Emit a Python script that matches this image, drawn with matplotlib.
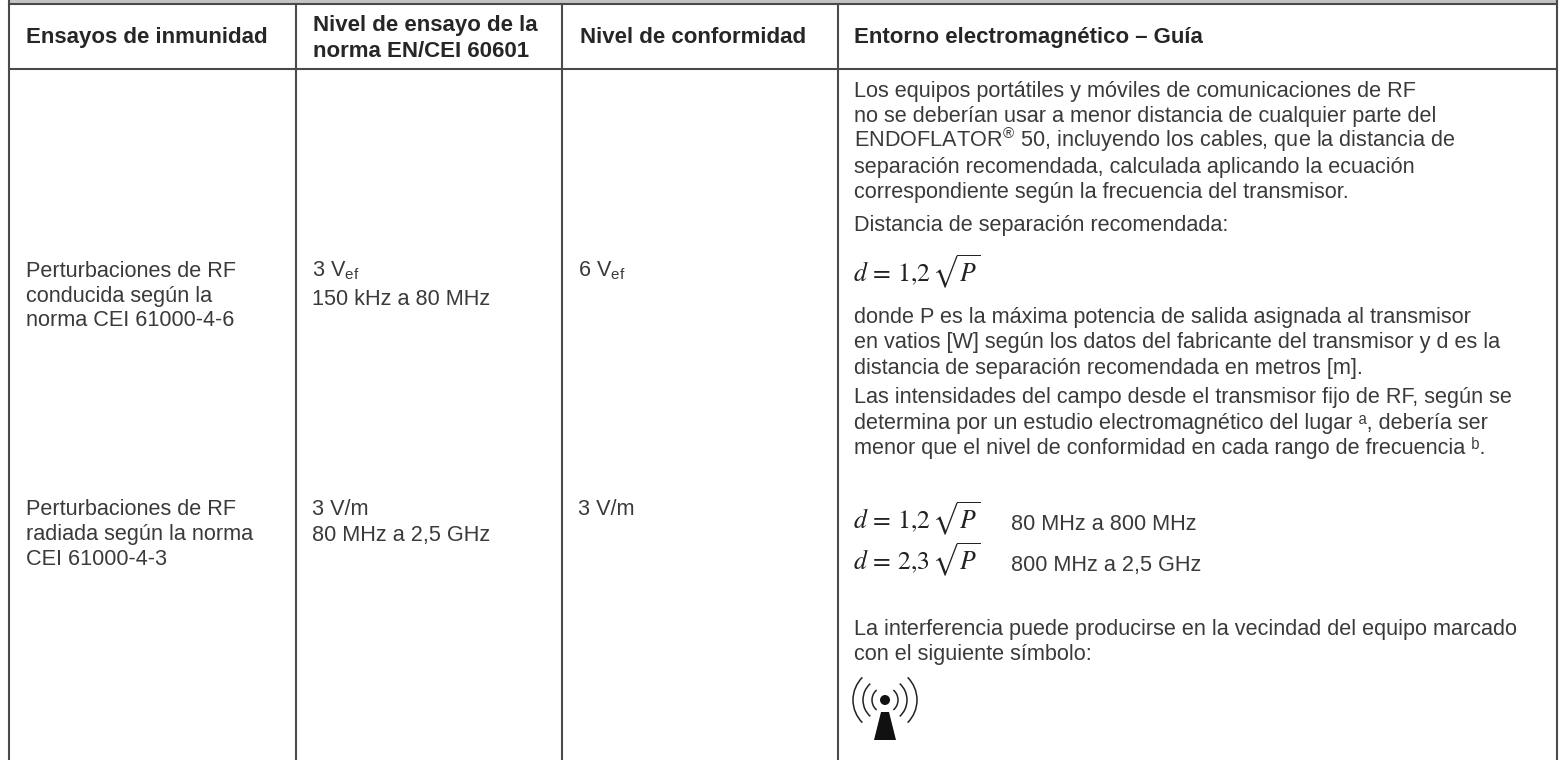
import matplotlib
matplotlib.use("Agg")
import matplotlib.pyplot as plt
from matplotlib.patches import Arc, Circle, Polygon, Rectangle

plt.rcParams["font.family"] = ["Liberation Sans", "DejaVu Sans"]
plt.rcParams["mathtext.fontset"] = "stix"

# table text
header1 = ["Ensayos de inmunidad"]
header2 = ["Nivel de ensayo de la", "norma EN/CEI 60601"]
header3 = ["Nivel de conformidad"]
header4 = ["Entorno electromagnético – Guía"]

immunity1 = ["Perturbaciones de RF", "conducida según la", "norma CEI 61000-4-6"]
immunity2 = ["Perturbaciones de RF", "radiada según la norma", "CEI 61000-4-3"]
test1 = ["3 V$_{\\mathregular{ef}}$", "150 kHz a 80 MHz"]
test2 = ["3 V/m", "80 MHz a 2,5 GHz"]
compliance1 = "6 V$_{\\mathregular{ef}}$"
compliance2 = "3 V/m"

guide1 = [
    "Los equipos portátiles y móviles de comunicaciones de RF",
    "no se deberían usar a menor distancia de cualquier parte del",
    "ENDOFLATOR$^{\\mathregular{®}}$ 50, incluyendo los cables, que la distancia de",
    "separación recomendada, calculada aplicando la ecuación",
    "correspondiente según la frecuencia del transmisor.",
]
guide2 = "Distancia de separación recomendada:"
guide3 = [
    "donde P es la máxima potencia de salida asignada al transmisor",
    "en vatios [W] según los datos del fabricante del transmisor y d es la",
    "distancia de separación recomendada en metros [m].",
]
guide4 = [
    "Las intensidades del campo desde el transmisor fijo de RF, según se",
    "determina por un estudio electromagnético del lugar ᵃ, debería ser",
    "menor que el nivel de conformidad en cada rango de frecuencia ᵇ.",
]
guide5 = [
    "La interferencia puede producirse en la vecindad del equipo marcado",
    "con el siguiente símbolo:",
]
formula1 = "$d\\,=\\,1{,}2\\,\\sqrt{P}$"
formula2 = "$d\\,=\\,2{,}3\\,\\sqrt{P}$"
band1 = "80 MHz a 800 MHz"
band2 = "800 MHz a 2,5 GHz"

text_color = "#3a3a3a"
line_color = "#4a4a4a"
col_lines = [9, 296, 562, 838, 1557]
col_text = [26, 312, 578, 854]

fig = plt.figure(figsize=(15.6, 7.6), dpi=100)
ax = fig.add_axes([0, 0, 1, 1])
ax.set_xlim(0, 1560)
ax.set_ylim(760, 0)
ax.axis("off")

ax.add_patch(Rectangle((col_lines[0], 0), col_lines[-1] - col_lines[0], 3, color="#c4c4c4", lw=0))
ax.plot([col_lines[0], col_lines[-1]], [3.5, 3.5], color=line_color, lw=1.5)
ax.plot([col_lines[0], col_lines[-1]], [68.5, 68.5], color=line_color, lw=1.5)
for x in col_lines:
    top = 0 if x in (col_lines[0], col_lines[-1]) else 3.5
    ax.plot([x, x], [top, 760], color=line_color, lw=1.5)


def head(x, y, s):
    ax.text(x, y, s, fontsize=16, fontweight="bold", color="#262626", va="baseline", ha="left")


def body(x, ys, lines):
    for y, s in zip(ys, lines):
        ax.text(x, y, s, fontsize=15.6, color=text_color, va="baseline", ha="left")


def formula(y, s):
    ax.text(853, y, s, fontsize=18.5, color="#222222", va="baseline", ha="left")


head(col_text[0], 43, header1[0])
head(col_text[1] + 1, 31, header2[0])
head(col_text[1] + 1, 57, header2[1])
head(col_text[2] + 2, 43, header3[0])
head(col_text[3], 43, header4[0])

body(col_text[0], [277, 302, 326], immunity1)
body(col_text[0], [515, 540, 565], immunity2)
body(col_text[1], [276, 305], test1)
body(col_text[1], [515, 541], test2)
body(col_text[2], [276], [compliance1])
body(col_text[2], [515], [compliance2])

body(col_text[3], [97, 122, 147, 173, 198], guide1)
body(col_text[3], [231], [guide2])
formula(282, formula1)
body(col_text[3], [323, 348, 374], guide3)
body(col_text[3], [403, 429, 454], guide4)
formula(529, formula1)
formula(570, formula2)
body(1011, [530], [band1])
body(1011, [571], [band2])
body(col_text[3], [635, 660], guide5)

# non-ionising radiation symbol
cx, cy = 885, 700
for r, th in ((13, 50), (22, 48), (32, 45)):
    ax.add_patch(Arc((cx, cy), 2 * r, 2 * r, theta1=-th, theta2=th, color="#222222", lw=1.1))
    ax.add_patch(Arc((cx, cy), 2 * r, 2 * r, theta1=180 - th, theta2=180 + th, color="#222222", lw=1.1))
ax.add_patch(Circle((cx, cy), 5, color="#111111", lw=0))
ax.add_patch(Polygon([(881, 712), (889, 712), (896, 740), (874, 740)], color="#111111", lw=0))

fig.savefig("out.png", dpi=100)
